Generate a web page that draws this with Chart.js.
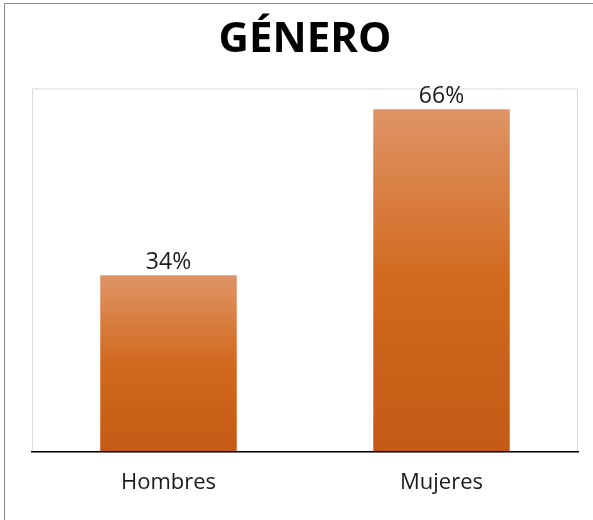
<!DOCTYPE html>
<html>
<head>
<meta charset="utf-8">
<script src="https://cdn.jsdelivr.net/npm/chart.js@4.4.1/dist/chart.umd.min.js"></script>
<style>
    html, body { margin: 0; padding: 0; background: #fff; overflow: hidden; }
    #frame { position: absolute; left: 4px; top: 3px; width: 700px; height: 700px;
             border-left: 1px solid #8c8c8c; border-top: 1px solid #8c8c8c; }
    #wrap { position: absolute; left: 0; top: 0; width: 593px; height: 520px; }
</style>
</head>
<body>
<div id="frame"></div>
<div id="wrap"><canvas id="genero"></canvas></div>
<script>
const categories = ['Hombres', 'Mujeres'];
const percentages = [34, 66];
const chartTitle = 'GÉNERO';

// gradient per bar, light at the top, dark at the baseline
function barGradient(context) {
    const chart = context.chart;
    const area = chart.chartArea;
    if (!area) return '#D2691E';
    const y = chart.scales.y;
    const top = y.getPixelForValue(context.raw);
    const g = chart.ctx.createLinearGradient(0, top, 0, area.bottom);
    g.addColorStop(0, '#DF9466');
    g.addColorStop(0.5, '#D2691E');
    g.addColorStop(1, '#C55A14');
    return g;
}

// light grey plot area box
const plotBox = {
    id: 'plotBox',
    beforeDatasetsDraw(chart) {
        const a = chart.chartArea;
        const ctx = chart.ctx;
        ctx.save();
        ctx.strokeStyle = '#d9d9d9';
        ctx.lineWidth = 1;
        ctx.strokeRect(a.left + 0.5, a.top + 0.5, a.right - a.left - 1, a.bottom - a.top);
        ctx.restore();
    }
};

// value labels above the bars
const valueLabels = {
    id: 'valueLabels',
    afterDatasetsDraw(chart) {
        const ctx = chart.ctx;
        const meta = chart.getDatasetMeta(0);
        ctx.save();
        ctx.font = '23px "Open Sans"';
        ctx.fillStyle = '#1a1a1a';
        ctx.textAlign = 'center';
        ctx.textBaseline = 'bottom';
        meta.data.forEach((bar, i) => {
            ctx.fillText(percentages[i] + '%', bar.x, bar.y - 1);
        });
        ctx.restore();
    }
};

const ctx = document.getElementById('genero');
new Chart(ctx, {
    type: 'bar',
    data: {
        labels: categories,
        datasets: [{
            data: percentages,
            backgroundColor: barGradient,
            borderWidth: 0,
            barPercentage: 0.5,
            categoryPercentage: 1
        }]
    },
    options: {
        responsive: true,
        maintainAspectRatio: false,
        animation: false,
        layout: { padding: { left: 32, right: 15, top: 0, bottom: 6 } },
        scales: {
            x: {
                grid: { display: false, drawTicks: false },
                border: { display: true, color: '#000', width: 1.5, z: 1 },
                ticks: { padding: 18, color: '#1a1a1a', font: { size: 22, family: 'Open Sans' } }
            },
            y: {
                display: false,
                min: 0,
                max: 70
            }
        },
        plugins: {
            legend: { display: false },
            tooltip: { enabled: false },
            title: {
                display: true,
                text: chartTitle,
                color: '#000',
                font: { size: 42, weight: 'bold', family: 'Open Sans', lineHeight: 1.2 },
                padding: { top: 15, bottom: 23 }
            }
        }
    },
    plugins: [plotBox, valueLabels]
});
</script>
</body>
</html>
